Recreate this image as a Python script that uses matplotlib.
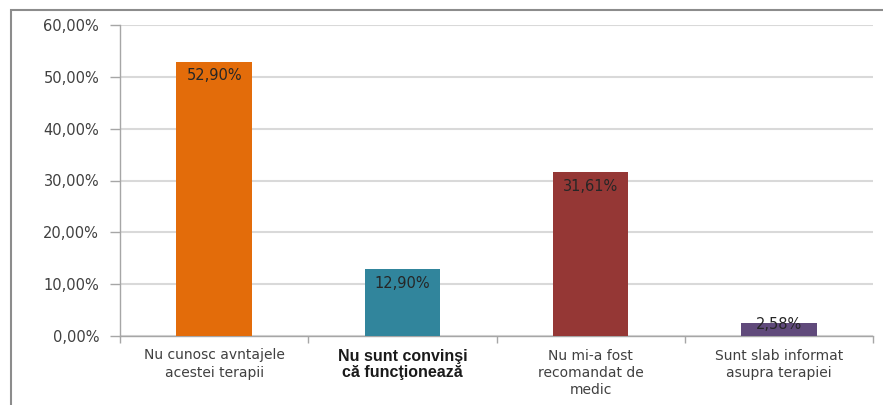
import matplotlib
matplotlib.use("Agg")
import matplotlib.pyplot as plt
from matplotlib.patches import Rectangle
from matplotlib.ticker import FuncFormatter, FixedLocator

categories = ["Nu cunosc avntajele\nacestei terapii",
              "Nu sunt convinşi\ncă funcţionează",
              "Nu mi-a fost\nrecomandat de\nmedic",
              "Sunt slab informat\nasupra terapiei"]
values = [52.90, 12.90, 31.61, 2.58]
colors = ["#E36C0A", "#31859C", "#953735", "#604A7B"]
yticks = [0, 10, 20, 30, 40, 50, 60]

W, H = 883, 405
fig = plt.figure(figsize=(W / 100, H / 100), dpi=100)
fig.patch.set_facecolor("white")

# outer chart border
fig.patches.append(Rectangle((11 / W, -0.2), 2.0, (H - 10) / H + 0.2,
                             transform=fig.transFigure, fill=False,
                             edgecolor="#8C8C8C", linewidth=1.5))

ax = fig.add_axes([120 / W, 1 - 336 / H, (873 - 120) / W, (336 - 25) / H])
x = list(range(len(values)))
ax.bar(x, values, width=0.4, color=colors, zorder=3)
ax.set_xlim(-0.5, len(values) - 0.5)
ax.set_ylim(0, 60)

ax.set_yticks(yticks)
ax.yaxis.set_major_formatter(FuncFormatter(lambda v, p: f"{v:.2f}%".replace(".", ",")))
ax.grid(axis="y", color="#D9D9D9", linewidth=1.5, zorder=0)
ax.tick_params(axis="y", length=7, width=1, color="#A6A6A6", labelsize=10.5,
               labelcolor="#404040", pad=8)

# x ticks at category boundaries
ax.xaxis.set_major_locator(FixedLocator([-0.5, 0.5, 1.5, 2.5, 3.5]))
ax.xaxis.set_major_formatter(FuncFormatter(lambda v, p: ""))
ax.tick_params(axis="x", length=5, width=1, color="#A6A6A6")

for s in ["top", "right"]:
    ax.spines[s].set_visible(False)
for s in ["left", "bottom"]:
    ax.spines[s].set_color("#A6A6A6")
    ax.spines[s].set_linewidth(1)

# category labels
for i, lab in enumerate(categories):
    if i == 1:
        ax.annotate(lab, xy=(i, 0), xycoords=("data", "axes fraction"),
                    xytext=(0, -9), textcoords="offset points",
                    ha="center", va="top", fontsize=11.5, fontweight="bold",
                    family="Liberation Sans", color="#1A1A1A", linespacing=1.15)
    else:
        ax.annotate(lab, xy=(i, 0), xycoords=("data", "axes fraction"),
                    xytext=(0, -9), textcoords="offset points",
                    ha="center", va="top", fontsize=10, color="#404040",
                    linespacing=1.3)

# data labels
for i, v in enumerate(values):
    hpx = v / 60 * 311
    off = -10 if hpx > 30 else -1
    ax.annotate(f"{v:.2f}%".replace(".", ","), xy=(i, v),
                xytext=(0, off), textcoords="offset points",
                ha="center", va="center", fontsize=10.5, color="#262626", zorder=4)

fig.savefig("out.png", dpi=100)
